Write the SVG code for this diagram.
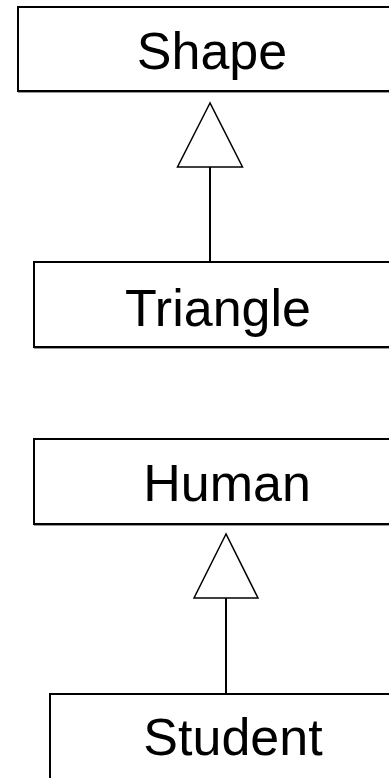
<svg xmlns="http://www.w3.org/2000/svg" width="389" height="778" viewBox="0 0 389 778">
<style>
.box{fill:#fff;stroke:#000;stroke-width:2}
.shadow{stroke:#999;stroke-width:1;fill:none}
.lbl{font-family:"Liberation Sans",Arial,sans-serif;font-size:52px;fill:#000;text-anchor:middle}
.edge{stroke:#000;stroke-width:2;fill:none}
.head{fill:#fff;stroke:#000;stroke-width:1.5;stroke-linejoin:miter}
</style>
<rect width="389" height="778" fill="#fff"/>
<g id="connectors">
<line class="edge" x1="210" y1="167" x2="210" y2="262"/>
<polygon class="head" points="210,103 177.5,167 242.5,167"/>
<line class="edge" x1="226" y1="598" x2="226" y2="694"/>
<polygon class="head" points="226,534 194,598 258,598"/>
</g>
<g id="shape">
<rect class="box" x="18" y="7" width="390" height="84"/>
<line class="shadow" x1="18" y1="92.5" x2="389" y2="92.5"/>
<text class="lbl" x="212" y="69">Shape</text>
</g>
<g id="triangle">
<rect class="box" x="34" y="262" width="380" height="85"/>
<line class="shadow" x1="34" y1="348.5" x2="389" y2="348.5"/>
<text class="lbl" x="218" y="326">Triangle</text>
</g>
<g id="human">
<rect class="box" x="34" y="439" width="380" height="85"/>
<line class="shadow" x1="34" y1="525.5" x2="389" y2="525.5"/>
<text class="lbl" x="227" y="501">Human</text>
</g>
<g id="student">
<rect class="box" x="50" y="694" width="370" height="90"/>
<text class="lbl" x="233" y="755">Student</text>
</g>
</svg>
